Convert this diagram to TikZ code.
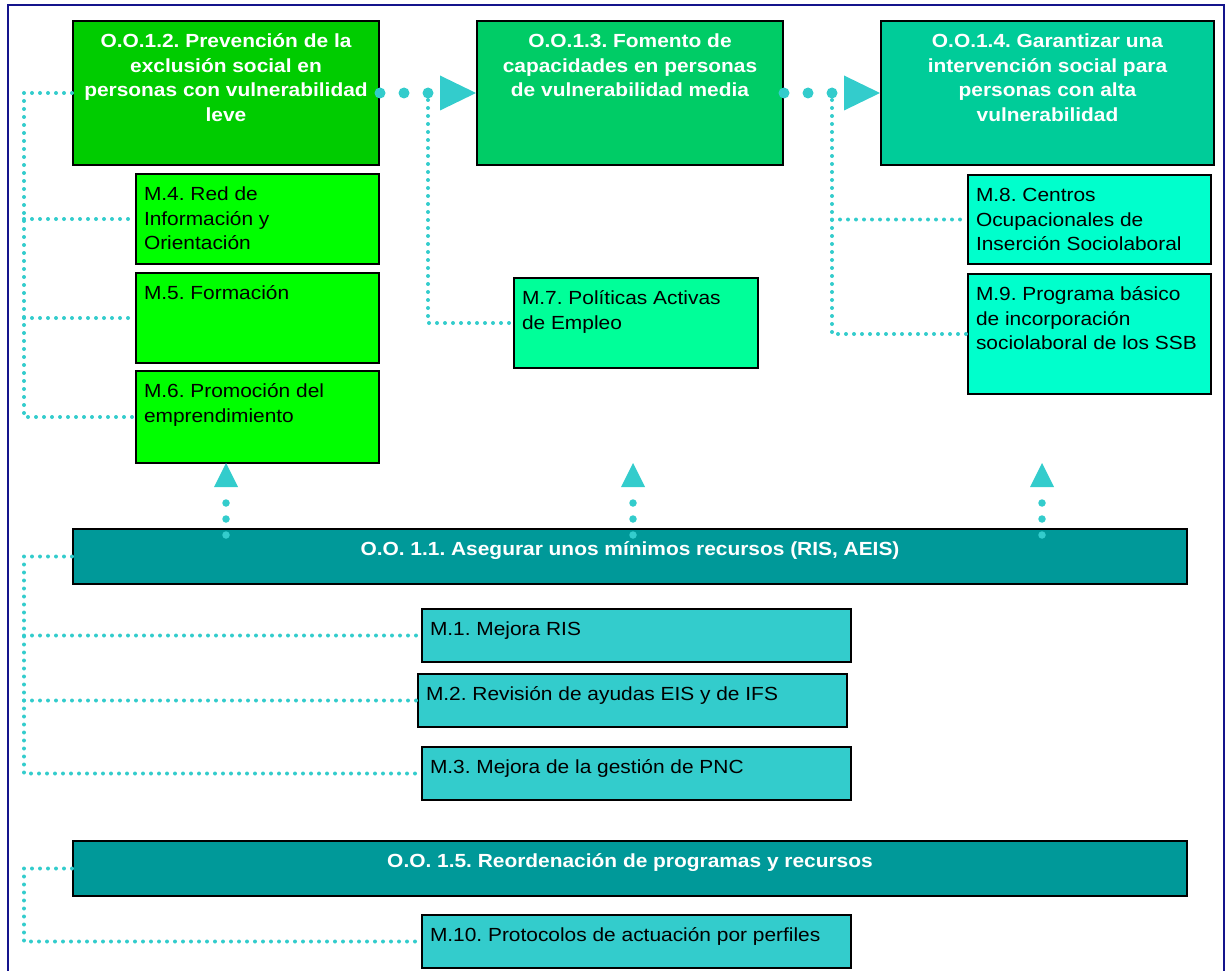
\documentclass[tikz,border=0pt]{standalone}
\usepackage{fontspec}
\setmainfont{Liberation Sans}[FakeStretch=1.1]
\usetikzlibrary{arrows.meta}
\frenchspacing

\definecolor{oogreen}{RGB}{0,204,0}
\definecolor{oomint}{RGB}{0,204,102}
\definecolor{ooteal}{RGB}{0,204,153}
\definecolor{oodark}{RGB}{0,153,153}
\definecolor{mgreen}{RGB}{0,255,0}
\definecolor{mmint}{RGB}{0,255,153}
\definecolor{maqua}{RGB}{0,255,204}
\definecolor{mcyan}{RGB}{51,204,204}
\definecolor{linkcol}{RGB}{51,204,204}
\definecolor{framecol}{RGB}{20,20,140}

% text of a box: width, height, alignment, lines (set from the top)
\newcommand{\boxtext}[4]{\parbox[c][#2][t]{#1}{#3\vspace*{9.8pt}\strut#4}}

\begin{document}
\begin{tikzpicture}[x=1pt,y=-1pt]
  \useasboundingbox (0,0) rectangle (1228,971);
  \tikzset{
    box/.style={draw=black,line width=2pt,anchor=north west,
      inner xsep=8pt,inner ysep=0pt,font=\fontsize{19}{24.5}\selectfont},
    goal/.style={box,inner xsep=0pt,text=white,
      font=\fontsize{19}{24.5}\selectfont\bfseries},
    conn/.style={linkcol,line width=4pt,line cap=round,
      dash pattern=on 0pt off 8pt},
    flow/.style={linkcol,line width=11pt,line cap=round,
      dash pattern=on 0pt off 24pt,
      -{Triangle[length=36pt,width=35pt,line width=0pt]}},
    rise/.style={linkcol,line width=7.5pt,line cap=round,
      dash pattern=on 0pt off 16pt,
      -{Triangle[length=24pt,width=24pt,line width=0pt]}}
  }
  %
  % Frame (open at the bottom)
  \draw[framecol,line width=2pt] (8,980) |- (1224,5) -- (1224,980);
  %
  % Objectives, top row
  \node[goal,fill=oogreen] (oo12) at (72,20)
    {\boxtext{306pt}{144pt}{\centering}{O.O.1.2. Prevención de la\\
      exclusión social en\\personas con vulnerabilidad\\leve}};
  \node[goal,fill=oomint] (oo13) at (476,20)
    {\boxtext{306pt}{144pt}{\centering}{O.O.1.3. Fomento de\\
      capacidades en personas\\de vulnerabilidad media}};
  \node[goal,fill=ooteal] (oo14) at (880,20)
    {\boxtext{333pt}{144pt}{\centering}{O.O.1.4. Garantizar una\\
      intervención social para\\personas con alta\\vulnerabilidad}};
  %
  % Measures under the top row
  \node[box,fill=mgreen] (m4) at (135,173)
    {\boxtext{227pt}{90pt}{\raggedright}{M.4. Red de\\Información y\\Orientación}};
  \node[box,fill=mgreen] (m5) at (135,272)
    {\boxtext{227pt}{90pt}{\raggedright}{M.5. Formación}};
  \node[box,fill=mgreen] (m6) at (135,370)
    {\boxtext{227pt}{92pt}{\raggedright}{M.6. Promoción del\\emprendimiento}};
  \node[box,fill=mmint] (m7) at (513,277)
    {\boxtext{228pt}{90pt}{\raggedright}{M.7. Políticas Activas\\de Empleo}};
  \node[box,fill=maqua] (m8) at (967,174)
    {\boxtext{227pt}{89pt}{\raggedright}{M.8. Centros\\Ocupacionales de\\Inserción Sociolaboral}};
  \node[box,fill=maqua] (m9) at (967,273)
    {\boxtext{227pt}{120pt}{\raggedright}{M.9. Programa básico\\de incorporación\\sociolaboral de los SSB}};
  %
  % Objective 1.1 and its measures
  \node[goal,fill=oodark] (oo11) at (72,528)
    {\boxtext{1114pt}{55pt}{\centering}{O.O. 1.1. Asegurar unos mínimos recursos (RIS, AEIS)}};
  \node[box,fill=mcyan] (m1) at (421,608)
    {\boxtext{413pt}{53pt}{\raggedright}{M.1. Mejora RIS}};
  \node[box,fill=mcyan] (m2) at (417,673)
    {\boxtext{413pt}{53pt}{\raggedright}{M.2. Revisión de ayudas EIS y de IFS}};
  \node[box,fill=mcyan] (m3) at (421,746)
    {\boxtext{413pt}{53pt}{\raggedright}{M.3. Mejora de la gestión de PNC}};
  %
  % Objective 1.5 and its measure
  \node[goal,fill=oodark] (oo15) at (72,840)
    {\boxtext{1114pt}{55pt}{\centering}{O.O. 1.5. Reordenación de programas y recursos}};
  \node[box,fill=mcyan] (m10) at (421,914)
    {\boxtext{413pt}{53pt}{\raggedright}{M.10. Protocolos de actuación por perfiles}};
  %
  % Dotted links on the left
  \coordinate (lbus) at (24,0);
  \draw[conn] (oo12.west) -- (oo12.west -| lbus) -- (m6.west -| lbus) -- (m6.west);
  \draw[conn] (m4.west -| lbus) -- (m4.west);
  \draw[conn] (m5.west -| lbus) -- (m5.west);
  \draw[conn] (oo11.west) -- (oo11.west -| lbus) -- (m3.west -| lbus) -- (m3.west);
  \draw[conn] (m1.west -| lbus) -- (m1.west);
  \draw[conn] (m2.west -| lbus) -- (m2.west);
  \draw[conn] (oo15.west) -- (oo15.west -| lbus) -- (m10.west -| lbus) -- (m10.west);
  %
  % Links between the objectives of the top row
  \coordinate (jA) at (428,92);
  \coordinate (jB) at (832,92);
  \draw[flow] (oo12.east) -- (oo13.west);
  \draw[flow] (oo13.east) -- (oo14.west);
  \draw[conn] (jA) |- (m7.west);
  \draw[conn] (jB) |- (m9.west);
  \draw[conn] (m8.west -| jB) -- (m8.west);
  %
  % Rising arrows from O.O. 1.1
  \coordinate (riseA0) at (226,535);  \coordinate (riseA1) at (226,463);
  \coordinate (riseB0) at (633,535);  \coordinate (riseB1) at (633,463);
  \coordinate (riseC0) at (1042,535); \coordinate (riseC1) at (1042,463);
  \draw[rise] (riseA0) -- (riseA1);
  \draw[rise] (riseB0) -- (riseB1);
  \draw[rise] (riseC0) -- (riseC1);
  %
\end{tikzpicture}
\end{document}
